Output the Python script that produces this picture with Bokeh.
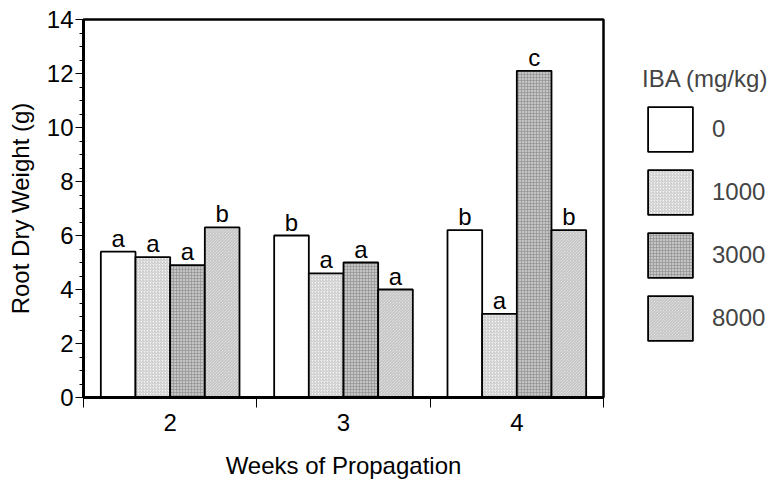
from bokeh.plotting import figure
from bokeh.models import FixedTicker, Range1d, Legend, LegendItem
from bokeh.embed import file_html
from bokeh.resources import INLINE
from bokeh.core.properties import value

weeks = ["2", "3", "4"]
doses = ["0", "1000", "3000", "8000"]
iba_0 = [5.4, 6.0, 6.2]
iba_1000 = [5.2, 4.6, 3.1]
iba_3000 = [4.9, 5.0, 12.1]
iba_8000 = [6.3, 4.0, 6.2]
let_0 = ["a", "b", "b"]
let_1000 = ["a", "a", "a"]
let_3000 = ["a", "a", "c"]
let_8000 = ["b", "a", "b"]
y_ticks = [0, 2, 4, 6, 8, 10, 12, 14]

series = [iba_0, iba_1000, iba_3000, iba_8000]
letters = [let_0, let_1000, let_3000, let_8000]
offsets = [-0.3, -0.1, 0.1, 0.3]
styles = [
    dict(fill_color="white"),
    dict(fill_color="#f4f4f4", hatch_pattern="/", hatch_scale=3, hatch_weight=0.7, hatch_color="#acacac"),
    dict(fill_color="#c4c4c4", hatch_pattern="+", hatch_scale=3, hatch_weight=0.6, hatch_color="#8c8c8c"),
    dict(fill_color="#f0f0f0", hatch_pattern="\\", hatch_scale=3, hatch_weight=0.8, hatch_color="#ababab"),
]

FONT = "Liberation Sans"
FS = "24px"

p = figure(output_backend="svg", toolbar_location=None,
           x_range=Range1d(0.5, 3.5), y_range=Range1d(0, 14),
           frame_width=520, frame_height=378,
           min_border_left=83, min_border_right=168, min_border_top=19, min_border_bottom=82)
p.xgrid.visible = False
p.ygrid.visible = False
p.outline_line_color = "black"
p.outline_line_width = 2.5
p.outline_line_alpha = 1.0

gx = list(range(1, len(weeks) + 1))
items = []
for s, lets, off, st, d in zip(series, letters, offsets, styles, doses):
    xs = [g + off for g in gx]
    r = p.vbar(x=xs, top=s, bottom=0, width=0.2, line_color="black", line_width=1.8, **st)
    items.append(LegendItem(label=d, renderers=[r]))
    p.text(x=xs, y=s, text=lets, text_align="center", text_baseline="bottom", y_offset=0,
           text_font=value(FONT), text_font_size=FS, text_color="black")

legend = Legend(items=items, location=(39, 51), title="IBA (mg/kg)",
                title_text_font=FONT, title_text_font_size=FS, title_text_font_style="normal",
                title_standoff=8, label_text_font=FONT, label_text_font_size=FS,
                glyph_width=56, glyph_height=56, spacing=7, label_standoff=14,
                padding=0, margin=0, border_line_color=None, background_fill_alpha=0)
p.add_layout(legend, "right")

xa = p.xaxis[0]
xa.ticker = FixedTicker(ticks=gx, minor_ticks=[0.5, 1.5, 2.5, 3.5])
xa.major_label_overrides = {g: w for g, w in zip(gx, weeks)}
xa.major_tick_out = 0
xa.major_tick_in = 0
xa.minor_tick_out = 10
xa.minor_tick_in = 0
xa.minor_tick_line_width = 1
xa.axis_line_width = 3
xa.major_label_standoff = 6
xa.axis_label = "Weeks of Propagation"
xa.axis_label_standoff = 18

ya = p.yaxis[0]
ya.ticker = FixedTicker(ticks=y_ticks, minor_ticks=[i * 0.5 for i in range(0, 29)])
ya.major_tick_out = 8
ya.major_tick_in = 0
ya.minor_tick_out = 4
ya.minor_tick_in = 0
ya.axis_line_width = 3
ya.major_label_standoff = 2
ya.axis_label = "Root Dry Weight (g)"
ya.axis_label_standoff = 10

for ax in (xa, ya):
    ax.major_label_text_font = FONT
    ax.major_label_text_font_size = FS
    ax.major_label_text_color = "black"
    ax.axis_label_text_font = FONT
    ax.axis_label_text_font_size = FS
    ax.axis_label_text_font_style = "normal"
    ax.axis_label_text_color = "black"
    ax.axis_line_color = "black"
    ax.major_tick_line_color = "black"
    ax.minor_tick_line_color = "black"

open("out.html", "w").write(file_html(p, INLINE))
